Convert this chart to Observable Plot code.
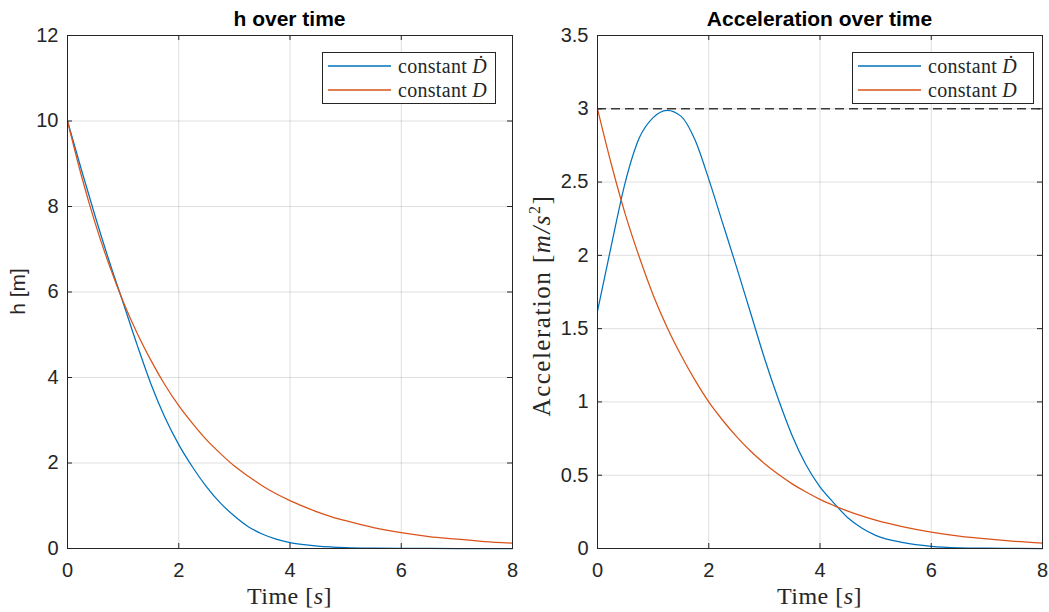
<!DOCTYPE html>
<html><head><meta charset="utf-8">
<script src="https://cdn.jsdelivr.net/npm/d3@7"></script>
<script src="https://cdn.jsdelivr.net/npm/@observablehq/plot@0.6"></script>
<style>
body{margin:0;background:#fff;}
#wrap{position:relative;width:1049px;height:612px;overflow:hidden;background:#fff}
.panel{position:absolute;top:0}
.legend{position:absolute;border:1px solid #262626;background:#fff;font-family:"Liberation Serif",serif;font-size:20px;color:#262626;box-sizing:border-box;letter-spacing:0.3px}
.legend .row{position:absolute;left:0;height:24px;white-space:nowrap}
.legend svg{position:absolute;left:5px;top:0}
.legend span{position:absolute;left:75px;top:0;line-height:24px}
</style></head><body><div id="wrap"></div>
<script>
// ---- data ----
const time     = [0,0.25,0.5,0.75,1,1.25,1.5,1.75,2,2.25,2.5,2.75,3,3.25,3.5,3.75,4,4.25,4.5,4.75,5,5.5,6,6.5,7,7.5,8];
const hDdot    = [10,8.86,7.76,6.72,5.75,4.77,3.85,3.07,2.43,1.90,1.44,1.06,0.76,0.51,0.34,0.22,0.14,0.09,0.055,0.035,0.022,0.009,0.003,0.001,0,0,0];
const hD       = [10,8.72,7.60,6.63,5.78,5.04,4.40,3.83,3.34,2.92,2.54,2.22,1.93,1.69,1.47,1.28,1.12,0.98,0.85,0.74,0.65,0.49,0.37,0.28,0.22,0.16,0.125];
const accDdot  = [1.62,2.07,2.5,2.8,2.94,2.99,2.95,2.79,2.52,2.22,1.92,1.61,1.3,1.02,0.77,0.57,0.42,0.31,0.21,0.14,0.09,0.04,0.015,0.005,0.002,0.001,0];
const accD     = [3.0,2.62,2.28,1.99,1.73,1.51,1.32,1.15,1.0,0.875,0.763,0.665,0.58,0.506,0.441,0.385,0.335,0.293,0.255,0.222,0.194,0.148,0.112,0.085,0.065,0.049,0.037];
const accLimit = [3];
const xTicks   = [0,2,4,6,8];
const hTicks   = [0,2,4,6,8,10,12];
const accTicks = [0,0.5,1,1.5,2,2.5,3,3.5];
const legendWords   = ["constant ","constant "];
const legendSymbols = ["Ḋ","D"];
const colors = ["#0072BD","#D95319"];
const titles = ["h over time","Acceleration over time"];

const W = 1049, H = 612, MT = 35, MB = 64;
const axisColor = "#262626";
const wrap = document.getElementById("wrap");

function panel({left, width, ml, mr, yDomain, yTicks, series, extra}) {
  const pw = width - ml - mr, ph = H - MT - MB, tk = 5;
  const marks = [
    Plot.gridX(xTicks, {stroke: axisColor, strokeOpacity: 0.15, strokeWidth: 1}),
    Plot.gridY(yTicks, {stroke: axisColor, strokeOpacity: 0.15, strokeWidth: 1}),
    ...series.map((s, i) => Plot.line(time, {x: (d, j) => time[j], y: (d, j) => s[j], stroke: colors[i], strokeWidth: 1.25, curve: "monotone-x"})),
    ...(extra || []),
    Plot.tickX(xTicks, {x: d => d, insetTop: ph - tk, stroke: axisColor}),
    Plot.tickX(xTicks, {x: d => d, insetBottom: ph - tk, stroke: axisColor}),
    Plot.tickY(yTicks, {y: d => d, insetRight: pw - tk, stroke: axisColor}),
    Plot.tickY(yTicks, {y: d => d, insetLeft: pw - tk, stroke: axisColor}),
    Plot.axisX(xTicks, {tickSize: 0, tickPadding: 14, label: null, tickFormat: d => String(d), fontSize: 20}),
    Plot.axisY(yTicks, {tickSize: 0, tickPadding: 9, label: null, tickFormat: d => String(d), fontSize: 20}),
    Plot.frame({stroke: axisColor, strokeWidth: 1})
  ];
  const chart = Plot.plot({
    width, height: H, marginLeft: ml, marginRight: mr, marginTop: MT, marginBottom: MB,
    x: {domain: [0, 8]}, y: {domain: yDomain},
    style: {fontFamily: "'Liberation Sans', Arial, sans-serif", fontSize: "20px", color: axisColor, background: "#fff", overflow: "visible"},
    marks
  });
  chart.classList.add("panel");
  chart.style.left = left + "px";
  wrap.appendChild(chart);
  return {chart, cx: ml + pw / 2, cy: MT + ph / 2};
}

const left = panel({left: 0, width: 530, ml: 67, mr: 18, yDomain: [0, 12], yTicks: hTicks, series: [hDdot, hD]});
const right = panel({left: 530, width: 519, ml: 67, mr: 7, yDomain: [0, 3.5], yTicks: accTicks, series: [accDdot, accD],
  extra: [Plot.ruleY(accLimit, {stroke: "#3a3a3a", strokeWidth: 1.5, strokeDasharray: "9,5"})]});

function addTitle(p, t) {
  d3.select(p.chart).append("text").attr("x", p.cx).attr("y", 26).attr("text-anchor", "middle")
    .attr("font-family", "'Liberation Sans', Arial, sans-serif").attr("font-weight", "bold").attr("font-size", 21)
    .attr("fill", "#000").text(t);
}
addTitle(left, titles[0]);
addTitle(right, titles[1]);

function addXLabel(p) {
  const t = d3.select(p.chart).append("text").attr("x", p.cx).attr("y", 604).attr("text-anchor", "middle")
    .attr("font-family", "'Liberation Serif', serif").attr("font-size", 24).attr("letter-spacing", 0.5).attr("fill", axisColor);
  t.append("tspan").text("Time [");
  t.append("tspan").attr("font-style", "italic").text("s");
  t.append("tspan").text("]");
}
addXLabel(left); addXLabel(right);

// y labels
d3.select(left.chart).append("text").attr("transform", `translate(25,${left.cy}) rotate(-90)`).attr("text-anchor", "middle")
  .attr("font-family", "'Liberation Sans', Arial, sans-serif").attr("font-size", 21).attr("fill", axisColor).text("h [m]");
{
  const t = d3.select(right.chart).append("text").attr("transform", `translate(20,${right.cy + 14}) rotate(-90)`).attr("text-anchor", "middle")
    .attr("font-family", "'Liberation Serif', serif").attr("font-size", 25).attr("letter-spacing", 1.5).attr("fill", axisColor);
  t.append("tspan").text("Acceleration [");
  t.append("tspan").attr("font-style", "italic").text("m/s");
  t.append("tspan").attr("font-size", 16).attr("dy", -10).text("2");
  t.append("tspan").attr("dy", 10).text("]");
}

function legend(x, y, w) {
  const box = d3.select(wrap).append("div").attr("class", "legend")
    .style("left", x + "px").style("top", y + "px").style("width", w + "px").style("height", "52px");
  legendWords.forEach((word, i) => {
    const row = box.append("div").attr("class", "row").style("top", (1 + i * 24) + "px").style("width", w + "px");
    row.append("svg").attr("width", 64).attr("height", 24)
      .append("line").attr("x1", 0).attr("x2", 63).attr("y1", 12).attr("y2", 12)
      .attr("stroke", colors[i]).attr("stroke-width", 1.3);
    const sp = row.append("span");
    sp.append("tspan").text(word);
    sp.append("i").text(legendSymbols[i]);
  });
}
legend(322, 52, 174);
legend(852, 52, 182);
</script></body></html>
